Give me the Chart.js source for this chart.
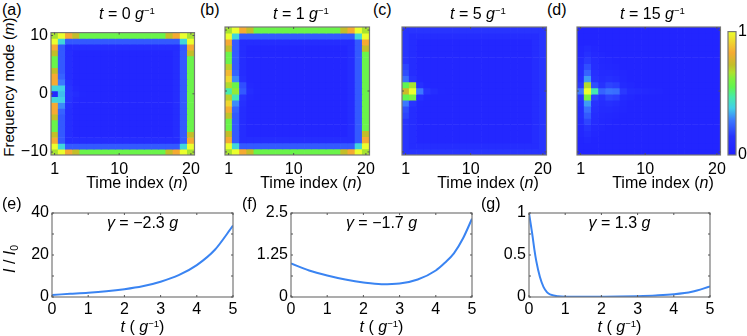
<!DOCTYPE html>
<html>
<head>
<meta charset="utf-8">
<script src="https://cdn.jsdelivr.net/npm/chart.js@4.4.0/dist/chart.umd.min.js"></script>
<style>
  body { margin: 0; background: #fff; }
  #fig { position: relative; width: 747px; height: 336px; overflow: hidden;
         font-family: "Liberation Sans", Arial, sans-serif; font-size: 16px; color: #000; }
  .box { position: absolute; }
  .txt { position: absolute; line-height: 20px; white-space: nowrap; }
  .c { text-align: center; }
  .rot { transform: rotate(-90deg); }
  sup { font-size: 0.6em; vertical-align: 0.55em; line-height: 0; }
  sub { font-size: 0.65em; vertical-align: -0.3em; line-height: 0; }
</style>
</head>
<body>
<div id="fig">
  <div class="box" style="left:20px;top:20px;width:185px;height:160px"><canvas id="hA"></canvas></div>
  <div class="box" style="left:215px;top:20px;width:165px;height:160px"><canvas id="hB"></canvas></div>
  <div class="box" style="left:392px;top:20px;width:165px;height:160px"><canvas id="hC"></canvas></div>
  <div class="box" style="left:567px;top:20px;width:164px;height:160px"><canvas id="hD"></canvas></div>
  <div class="box" style="left:720px;top:20px;width:27px;height:160px"><canvas id="cbar"></canvas></div>
  <div class="box" style="left:0px;top:200px;width:245px;height:136px"><canvas id="lE"></canvas></div>
  <div class="box" style="left:245px;top:200px;width:239px;height:136px"><canvas id="lF"></canvas></div>
  <div class="box" style="left:484px;top:200px;width:238px;height:136px"><canvas id="lG"></canvas></div>

  <div class="txt" style="left:2px;top:0px">(a)</div>
  <div class="txt" style="left:200px;top:0px">(b)</div>
  <div class="txt" style="left:373px;top:0px">(c)</div>
  <div class="txt" style="left:547px;top:0px">(d)</div>
  <div class="txt" style="left:2px;top:194px">(e)</div>
  <div class="txt" style="left:242px;top:194px">(f)</div>
  <div class="txt" style="left:481px;top:194px">(g)</div>

  <div class="txt c" style="left:54px;top:4px;width:146px"><i>t</i> = 0 <i>g</i><sup>−1</sup></div>
  <div class="txt c" style="left:228px;top:4px;width:146px"><i>t</i> = 1 <i>g</i><sup>−1</sup></div>
  <div class="txt c" style="left:405px;top:4px;width:146px"><i>t</i> = 5 <i>g</i><sup>−1</sup></div>
  <div class="txt c" style="left:580px;top:4px;width:145px"><i>t</i> = 15 <i>g</i><sup>−1</sup></div>

  <div class="txt c rot" style="left:-91px;top:77px;width:200px;font-size:15px">Frequency mode (<i>m</i>)</div>
  <div class="txt c" style="left:57px;top:173px;width:160px">Time index (<i>n</i>)</div>
  <div class="txt c" style="left:231px;top:173px;width:160px">Time index (<i>n</i>)</div>
  <div class="txt c" style="left:408px;top:173px;width:160px">Time index (<i>n</i>)</div>
  <div class="txt c" style="left:583px;top:173px;width:160px">Time index (<i>n</i>)</div>

  <div class="txt c" style="left:52px;top:213px;width:181px"><i>γ</i> = −2.3 <i>g</i></div>
  <div class="txt c" style="left:291px;top:213px;width:181px"><i>γ</i> = −1.7 <i>g</i></div>
  <div class="txt c" style="left:529px;top:213px;width:181px"><i>γ</i> = 1.3 <i>g</i></div>

  <div class="txt c rot" style="left:-40px;top:249px;width:100px"><i>I</i> / <i>I</i><sub>0</sub></div>
  <div class="txt c" style="left:52px;top:317px;width:181px"><i>t</i> ( <i>g</i><sup>−1</sup>)</div>
  <div class="txt c" style="left:291px;top:317px;width:181px"><i>t</i> ( <i>g</i><sup>−1</sup>)</div>
  <div class="txt c" style="left:529px;top:317px;width:181px"><i>t</i> ( <i>g</i><sup>−1</sup>)</div>
</div>
<script>
// heatmap axes: time index n (columns), frequency mode m (rows, top to bottom)
const nIndex = [1,2,3,4,5,6,7,8,9,10,11,12,13,14,15,16,17,18,19,20];
const mModes = [10,9,8,7,6,5,4,3,2,1,0,-1,-2,-3,-4,-5,-6,-7,-8,-9,-10];
const nTickShown = [1, 10, 20];
const mTickShown = [-10, 0, 10];
const cbarTicks = [0, 1];

// normalised intensity per cell, rows follow mModes
const heatA = [
  [.66,1,.83,.73,.57,.57,.57,.57,.57,.57,.57,.57,.57,.57,.57,.57,.73,.83,1,.66],
  [1,.4,.22,.22,.22,.22,.22,.22,.22,.22,.22,.22,.22,.22,.22,.22,.22,.22,.4,1],
  [.83,.22,.1,.1,.1,.1,.1,.1,.1,.1,.1,.1,.1,.1,.1,.1,.1,.1,.22,.83],
  [.73,.22,.1,.05,.05,.05,.05,.05,.05,.05,.05,.05,.05,.05,.05,.05,.05,.1,.22,.73],
  [.57,.22,.1,.05,.05,.05,.05,.05,.05,.05,.05,.05,.05,.05,.05,.05,.05,.1,.22,.57],
  [.57,.22,.1,.05,.05,.05,.05,.05,.05,.05,.05,.05,.05,.05,.05,.05,.05,.1,.22,.57],
  [.73,.22,.1,.05,.05,.05,.05,.05,.05,.05,.05,.05,.05,.05,.05,.05,.05,.1,.22,.57],
  [.83,.24,.1,.05,.05,.05,.05,.05,.05,.05,.05,.05,.05,.05,.05,.05,.05,.1,.22,.57],
  [.83,.28,.11,.05,.05,.05,.05,.05,.05,.05,.05,.05,.05,.05,.05,.05,.05,.1,.22,.57],
  [.4,.38,.14,.07,.05,.05,.05,.05,.05,.05,.05,.05,.05,.05,.05,.05,.05,.1,.22,.57],
  [.06,.36,.15,.1,.06,.05,.05,.05,.05,.05,.05,.05,.05,.05,.05,.05,.05,.1,.22,.57],
  [.4,.38,.14,.07,.05,.05,.05,.05,.05,.05,.05,.05,.05,.05,.05,.05,.05,.1,.22,.57],
  [.83,.3,.11,.05,.05,.05,.05,.05,.05,.05,.05,.05,.05,.05,.05,.05,.05,.1,.22,.57],
  [.83,.24,.1,.05,.05,.05,.05,.05,.05,.05,.05,.05,.05,.05,.05,.05,.05,.1,.22,.57],
  [.73,.22,.1,.05,.05,.05,.05,.05,.05,.05,.05,.05,.05,.05,.05,.05,.05,.1,.22,.57],
  [.57,.22,.1,.05,.05,.05,.05,.05,.05,.05,.05,.05,.05,.05,.05,.05,.05,.1,.22,.57],
  [.57,.22,.1,.05,.05,.05,.05,.05,.05,.05,.05,.05,.05,.05,.05,.05,.05,.1,.22,.57],
  [.73,.22,.1,.05,.05,.05,.05,.05,.05,.05,.05,.05,.05,.05,.05,.05,.05,.1,.22,.73],
  [.83,.22,.1,.1,.1,.1,.1,.1,.1,.1,.1,.1,.1,.1,.1,.1,.1,.1,.22,.83],
  [1,.4,.22,.22,.22,.22,.22,.22,.22,.22,.22,.22,.22,.22,.22,.22,.22,.22,.4,1],
  [.66,1,.83,.73,.57,.57,.57,.57,.57,.57,.57,.57,.57,.57,.57,.57,.73,.83,1,.66]
];

const heatB = [
  [.66,1,.83,.73,.57,.57,.57,.57,.57,.57,.57,.57,.57,.57,.57,.57,.73,.83,1,.66],
  [1,.4,.22,.22,.22,.22,.22,.22,.22,.22,.22,.22,.22,.22,.22,.22,.22,.22,.4,1],
  [.83,.22,.1,.1,.1,.1,.1,.1,.1,.1,.1,.1,.1,.1,.1,.1,.1,.1,.22,.83],
  [.73,.22,.1,.05,.05,.05,.05,.05,.05,.05,.05,.05,.05,.05,.05,.05,.05,.1,.22,.73],
  [.57,.22,.1,.05,.05,.05,.05,.05,.05,.05,.05,.05,.05,.05,.05,.05,.05,.1,.22,.57],
  [.57,.22,.1,.05,.05,.05,.05,.05,.05,.05,.05,.05,.05,.05,.05,.05,.05,.1,.22,.57],
  [.7,.22,.1,.05,.05,.05,.05,.05,.05,.05,.05,.05,.05,.05,.05,.05,.05,.1,.22,.57],
  [.86,.24,.1,.05,.05,.05,.05,.05,.05,.05,.05,.05,.05,.05,.05,.05,.05,.1,.22,.57],
  [.92,.3,.12,.05,.05,.05,.05,.05,.05,.05,.05,.05,.05,.05,.05,.05,.05,.1,.22,.57],
  [.68,.57,.2,.07,.05,.05,.05,.05,.05,.05,.05,.05,.05,.05,.05,.05,.05,.1,.22,.57],
  [.47,.64,.22,.1,.06,.05,.05,.05,.05,.05,.05,.05,.05,.05,.05,.05,.05,.1,.22,.57],
  [.7,.45,.15,.07,.05,.05,.05,.05,.05,.05,.05,.05,.05,.05,.05,.05,.05,.1,.22,.57],
  [.92,.3,.12,.05,.05,.05,.05,.05,.05,.05,.05,.05,.05,.05,.05,.05,.05,.1,.22,.57],
  [.84,.24,.1,.05,.05,.05,.05,.05,.05,.05,.05,.05,.05,.05,.05,.05,.05,.1,.22,.57],
  [.72,.22,.1,.05,.05,.05,.05,.05,.05,.05,.05,.05,.05,.05,.05,.05,.05,.1,.22,.57],
  [.57,.22,.1,.05,.05,.05,.05,.05,.05,.05,.05,.05,.05,.05,.05,.05,.05,.1,.22,.57],
  [.57,.22,.1,.05,.05,.05,.05,.05,.05,.05,.05,.05,.05,.05,.05,.05,.05,.1,.22,.57],
  [.73,.22,.1,.05,.05,.05,.05,.05,.05,.05,.05,.05,.05,.05,.05,.05,.05,.1,.22,.73],
  [.83,.22,.1,.1,.1,.1,.1,.1,.1,.1,.1,.1,.1,.1,.1,.1,.1,.1,.22,.83],
  [1,.4,.22,.22,.22,.22,.22,.22,.22,.22,.22,.22,.22,.22,.22,.22,.22,.22,.4,1],
  [.66,1,.83,.73,.57,.57,.57,.57,.57,.57,.57,.57,.57,.57,.57,.57,.73,.83,1,.66]
];

const heatC = [
  [.15,.15,.15,.15,.15,.15,.15,.15,.15,.15,.15,.15,.15,.15,.15,.15,.15,.15,.15,.15],
  [.15,.1,.1,.1,.1,.1,.1,.1,.1,.1,.1,.1,.1,.1,.1,.1,.1,.1,.1,.15],
  [.15,.1,.05,.05,.05,.05,.05,.05,.05,.05,.05,.05,.05,.05,.05,.05,.05,.05,.1,.15],
  [.15,.1,.05,.05,.05,.05,.05,.05,.05,.05,.05,.05,.05,.05,.05,.05,.05,.05,.1,.15],
  [.15,.1,.05,.05,.05,.05,.05,.05,.05,.05,.05,.05,.05,.05,.05,.05,.05,.05,.1,.15],
  [.15,.1,.05,.05,.05,.05,.05,.05,.05,.05,.05,.05,.05,.05,.05,.05,.05,.05,.1,.15],
  [.18,.1,.05,.05,.05,.05,.05,.05,.05,.05,.05,.05,.05,.05,.05,.05,.05,.05,.1,.15],
  [.2,.1,.05,.05,.05,.05,.05,.05,.05,.05,.05,.05,.05,.05,.05,.05,.05,.05,.1,.15],
  [.26,.14,.06,.05,.05,.05,.05,.05,.05,.05,.05,.05,.05,.05,.05,.05,.05,.05,.1,.15],
  [.55,.66,.12,.06,.05,.05,.05,.05,.05,.05,.05,.05,.05,.05,.05,.05,.05,.05,.1,.15],
  [.75,1,.28,.15,.1,.06,.05,.05,.05,.05,.05,.05,.05,.05,.05,.05,.05,.05,.1,.15],
  [.55,.6,.12,.06,.05,.05,.05,.05,.05,.05,.05,.05,.05,.05,.05,.05,.05,.05,.1,.15],
  [.28,.15,.06,.05,.05,.05,.05,.05,.05,.05,.05,.05,.05,.05,.05,.05,.05,.05,.1,.15],
  [.2,.1,.05,.05,.05,.05,.05,.05,.05,.05,.05,.05,.05,.05,.05,.05,.05,.05,.1,.15],
  [.18,.1,.05,.05,.05,.05,.05,.05,.05,.05,.05,.05,.05,.05,.05,.05,.05,.05,.1,.15],
  [.15,.1,.05,.05,.05,.05,.05,.05,.05,.05,.05,.05,.05,.05,.05,.05,.05,.05,.1,.15],
  [.15,.1,.05,.05,.05,.05,.05,.05,.05,.05,.05,.05,.05,.05,.05,.05,.05,.05,.1,.15],
  [.15,.1,.05,.05,.05,.05,.05,.05,.05,.05,.05,.05,.05,.05,.05,.05,.05,.05,.1,.15],
  [.15,.1,.05,.05,.05,.05,.05,.05,.05,.05,.05,.05,.05,.05,.05,.05,.05,.05,.1,.15],
  [.15,.1,.1,.1,.1,.1,.1,.1,.1,.1,.1,.1,.1,.1,.1,.1,.1,.1,.1,.15],
  [.15,.15,.15,.15,.15,.15,.15,.15,.15,.15,.15,.15,.15,.15,.15,.15,.15,.15,.15,.15]
];

const heatD = [
  [.04,.04,.04,.04,.04,.04,.04,.04,.04,.04,.04,.04,.04,.04,.04,.04,.04,.04,.04,.04],
  [.04,.04,.04,.04,.04,.04,.04,.04,.04,.04,.04,.04,.04,.04,.04,.04,.04,.04,.04,.04],
  [.04,.04,.04,.04,.04,.04,.04,.04,.04,.04,.04,.04,.04,.04,.04,.04,.04,.04,.04,.04],
  [.05,.08,.05,.04,.04,.04,.04,.04,.04,.04,.04,.04,.04,.04,.04,.04,.04,.04,.04,.04],
  [.06,.12,.07,.05,.04,.04,.04,.04,.04,.04,.04,.04,.04,.04,.04,.04,.04,.04,.04,.04],
  [.08,.16,.09,.06,.05,.04,.04,.04,.04,.04,.04,.04,.04,.04,.04,.04,.04,.04,.04,.04],
  [.1,.2,.1,.07,.06,.05,.04,.04,.04,.04,.04,.04,.04,.04,.04,.04,.04,.04,.04,.04],
  [.1,.24,.12,.08,.08,.07,.05,.04,.04,.04,.04,.04,.04,.04,.04,.04,.04,.04,.04,.04],
  [.12,.32,.14,.1,.12,.1,.06,.04,.04,.04,.04,.04,.04,.04,.04,.04,.04,.04,.04,.04],
  [.16,.68,.2,.14,.18,.17,.08,.06,.04,.04,.04,.04,.04,.04,.04,.04,.04,.04,.04,.04],
  [.28,1,.46,.24,.27,.26,.16,.1,.08,.07,.06,.05,.04,.04,.04,.04,.04,.04,.04,.04],
  [.16,.6,.18,.14,.18,.17,.08,.06,.04,.04,.04,.04,.04,.04,.04,.04,.04,.04,.04,.04],
  [.12,.32,.14,.1,.12,.1,.06,.04,.04,.04,.04,.04,.04,.04,.04,.04,.04,.04,.04,.04],
  [.1,.26,.12,.08,.08,.07,.05,.04,.04,.04,.04,.04,.04,.04,.04,.04,.04,.04,.04,.04],
  [.1,.22,.1,.07,.06,.05,.04,.04,.04,.04,.04,.04,.04,.04,.04,.04,.04,.04,.04,.04],
  [.08,.18,.09,.06,.05,.04,.04,.04,.04,.04,.04,.04,.04,.04,.04,.04,.04,.04,.04,.04],
  [.06,.14,.07,.05,.04,.04,.04,.04,.04,.04,.04,.04,.04,.04,.04,.04,.04,.04,.04,.04],
  [.05,.1,.05,.04,.04,.04,.04,.04,.04,.04,.04,.04,.04,.04,.04,.04,.04,.04,.04,.04],
  [.04,.06,.04,.04,.04,.04,.04,.04,.04,.04,.04,.04,.04,.04,.04,.04,.04,.04,.04,.04],
  [.04,.04,.04,.04,.04,.04,.04,.04,.04,.04,.04,.04,.04,.04,.04,.04,.04,.04,.04,.04],
  [.04,.04,.04,.04,.04,.04,.04,.04,.04,.04,.04,.04,.04,.04,.04,.04,.04,.04,.04,.04]
];

// I / I0 against t (units of 1/g)
const tE = [0, 0.5, 1, 1.5, 2, 2.5, 3, 3.5, 4, 4.5, 5];
const intensityE = [1.0, 1.5, 2.0, 2.7, 3.7, 5.1, 7.3, 10.4, 15.2, 22.5, 34];
const tF = [0, 0.5, 1, 1.5, 2, 2.5, 3, 3.5, 4, 4.25, 4.5, 4.75, 5];
const intensityF = [1.0, 0.79, 0.64, 0.52, 0.43, 0.38, 0.4, 0.52, 0.79, 1.02, 1.3, 1.74, 2.33];
const tG = [0, 0.05, 0.1, 0.15, 0.2, 0.3, 0.4, 0.5, 0.6, 0.8, 1, 1.5, 2, 2.5, 3, 3.5, 4, 4.5, 5];
const intensityG = [1, 0.86, 0.72, 0.56, 0.43, 0.24, 0.12, 0.055, 0.028, 0.008, 0.003, 0.002, 0.003, 0.005, 0.01, 0.018, 0.032, 0.062, 0.125];

const tTicks = [0, 1, 2, 3, 4, 5];
const yTicksE = [0, 10, 20, 30, 40], yLabelsE = [0, 20, 40];
const yTicksF = [0, 0.625, 1.25, 1.875, 2.5], yLabelsF = [0, 1.25, 2.5];
const yTicksG = [0, 0.25, 0.5, 0.75, 1], yLabelsG = [0, 0.5, 1];

// colour map (blue -> cyan -> green -> olive -> orange -> yellow)
const cmapStops = [
  [0.00, [32, 32, 255]],
  [0.15, [40, 52, 255]],
  [0.28, [60, 120, 255]],
  [0.38, [64, 208, 232]],
  [0.47, [70, 235, 170]],
  [0.55, [96, 245, 80]],
  [0.62, [130, 240, 60]],
  [0.67, [175, 225, 45]],
  [0.73, [195, 190, 40]],
  [0.83, [245, 170, 50]],
  [1.00, [235, 255, 45]]
];

function cmap(v) {
  for (let i = 1; i < cmapStops.length; i++) {
    const [v0, c0] = cmapStops[i - 1];
    const [v1, c1] = cmapStops[i];
    if (v <= v1) {
      const f = Math.max(0, (v - v0) / (v1 - v0));
      return 'rgb(' + c0.map((c, k) => Math.round(c + (c1[k] - c) * f)).join(',') + ')';
    }
  }
  return 'rgb(' + cmapStops[cmapStops.length - 1][1].join(',') + ')';
}

Chart.defaults.font.family = '"Liberation Sans", Arial, sans-serif';
Chart.defaults.font.size = 16;
Chart.defaults.color = '#000';

const FRAME = '#777';

// box round the plot area plus small inward tick marks
const framePlugin = {
  id: 'frame',
  afterDatasetsDraw(chart, args, opts) {
    const { ctx, chartArea: a } = chart;
    const xs = chart.scales.x, ys = chart.scales.y;
    ctx.save();
    ctx.strokeStyle = FRAME;
    ctx.lineWidth = 1.2;
    ctx.strokeRect(a.left, a.top, a.right - a.left, a.bottom - a.top);
    ctx.lineWidth = 1;
    ctx.strokeStyle = '#555';
    const len = opts.len || 3;
    ctx.beginPath();
    (opts.x || []).forEach(v => {
      const p = xs.getPixelForValue(v);
      ctx.moveTo(p, a.bottom); ctx.lineTo(p, a.bottom - len);
      ctx.moveTo(p, a.top); ctx.lineTo(p, a.top + len);
    });
    (opts.y || []).forEach(v => {
      const p = ys.getPixelForValue(v);
      ctx.moveTo(a.left, p); ctx.lineTo(a.left + len, p);
      ctx.moveTo(a.right, p); ctx.lineTo(a.right - len, p);
    });
    ctx.stroke();
    ctx.restore();
  }
};

function fmtMinus(v) {
  return v < 0 ? '−' + Math.abs(v) : String(v);
}

function heatmap(id, grid, showY, pad, yWidth) {
  new Chart(document.getElementById(id), {
    type: 'bar',
    data: {
      labels: nIndex,
      datasets: mModes.map((m, r) => ({
        data: nIndex.map(() => [m - 0.5, m + 0.5]),
        backgroundColor: grid[r].map(cmap),
        borderWidth: 0,
        grouped: false,
        barPercentage: 1,
        categoryPercentage: 1
      }))
    },
    options: {
      responsive: true,
      maintainAspectRatio: false,
      animation: false,
      events: [],
      layout: { padding: pad },
      plugins: {
        legend: { display: false },
        tooltip: { enabled: false },
        frame: { x: nTickShown.map(n => nIndex.indexOf(n)), y: mTickShown, len: 2 }
      },
      scales: {
        x: {
          grid: { display: false, drawTicks: false },
          border: { display: false },
          ticks: {
            autoSkip: false, maxRotation: 0, padding: 5,
            callback: (v, i) => nTickShown.includes(nIndex[i]) ? String(nIndex[i]) : ''
          },
          afterFit: s => { s.height = 25; }
        },
        y: {
          display: showY,
          min: -10.5, max: 10.5,
          grid: { display: false, drawTicks: false },
          border: { display: false },
          afterBuildTicks: s => { s.ticks = mTickShown.map(v => ({ value: v })); },
          ticks: { padding: 3, callback: v => fmtMinus(v) },
          afterFit: s => { s.width = yWidth; }
        }
      }
    },
    plugins: [framePlugin]
  });
}

heatmap('hA', heatA, true, { top: 7, right: 8, left: 0, bottom: 0 }, 31);
heatmap('hB', heatB, false, { top: 7, right: 9, left: 10, bottom: 0 }, 0);
heatmap('hC', heatC, false, { top: 7, right: 9, left: 10, bottom: 0 }, 0);
heatmap('hD', heatD, false, { top: 7, right: 9, left: 10, bottom: 0 }, 0);

// colour bar
new Chart(document.getElementById('cbar'), {
  type: 'bar',
  data: {
    labels: [''],
    datasets: [{
      data: [[0, 1]],
      backgroundColor: context => {
        const area = context.chart.chartArea;
        if (!area) return cmap(0.5);
        const g = context.chart.ctx.createLinearGradient(0, area.bottom, 0, area.top);
        cmapStops.forEach(([v, c]) => g.addColorStop(v, 'rgb(' + c.join(',') + ')'));
        return g;
      },
      borderWidth: 0,
      barPercentage: 1,
      categoryPercentage: 1
    }]
  },
  options: {
    responsive: true,
    maintainAspectRatio: false,
    animation: false,
    events: [],
    layout: { padding: { left: 8, top: 7, bottom: 25, right: 0 } },
    plugins: { legend: { display: false }, tooltip: { enabled: false }, frame: {} },
    scales: {
      x: { display: false },
      y: {
        position: 'right',
        min: 0, max: 1,
        grid: { display: false, drawTicks: false },
        border: { display: false },
        afterBuildTicks: s => { s.ticks = cbarTicks.map(v => ({ value: v })); },
        ticks: { padding: 2 },
        afterFit: s => { s.width = 11; }
      }
    }
  },
  plugins: [framePlugin]
});

function lineChart(id, ts, vals, yMax, yTicks, yLabels, yWidth) {
  new Chart(document.getElementById(id), {
    type: 'line',
    data: {
      datasets: [{
        data: ts.map((t, i) => ({ x: t, y: vals[i] })),
        borderColor: '#3a84f2',
        borderWidth: 2,
        pointRadius: 0,
        fill: false,
        cubicInterpolationMode: 'monotone'
      }]
    },
    options: {
      responsive: true,
      maintainAspectRatio: false,
      animation: false,
      events: [],
      layout: { padding: { top: 13, right: 12, left: 0, bottom: 0 } },
      plugins: {
        legend: { display: false },
        tooltip: { enabled: false },
        frame: { x: tTicks, y: yTicks, len: 2 }
      },
      scales: {
        x: {
          type: 'linear', min: 0, max: 5,
          grid: { display: false, drawTicks: false },
          border: { display: false },
          afterBuildTicks: s => { s.ticks = tTicks.map(v => ({ value: v })); },
          ticks: { padding: 3, maxRotation: 0 },
          afterFit: s => { s.height = 39; }
        },
        y: {
          min: 0, max: yMax,
          grid: { display: false, drawTicks: false },
          border: { display: false },
          afterBuildTicks: s => { s.ticks = yTicks.map(v => ({ value: v })); },
          ticks: { padding: 3, callback: v => yLabels.includes(v) ? String(v) : '' },
          afterFit: s => { s.width = yWidth; }
        }
      }
    },
    plugins: [framePlugin]
  });
}

lineChart('lE', tE, intensityE, 40, yTicksE, yLabelsE, 52);
lineChart('lF', tF, intensityF, 2.5, yTicksF, yLabelsF, 46);
lineChart('lG', tG, intensityG, 1, yTicksG, yLabelsG, 45);
</script>
</body>
</html>
